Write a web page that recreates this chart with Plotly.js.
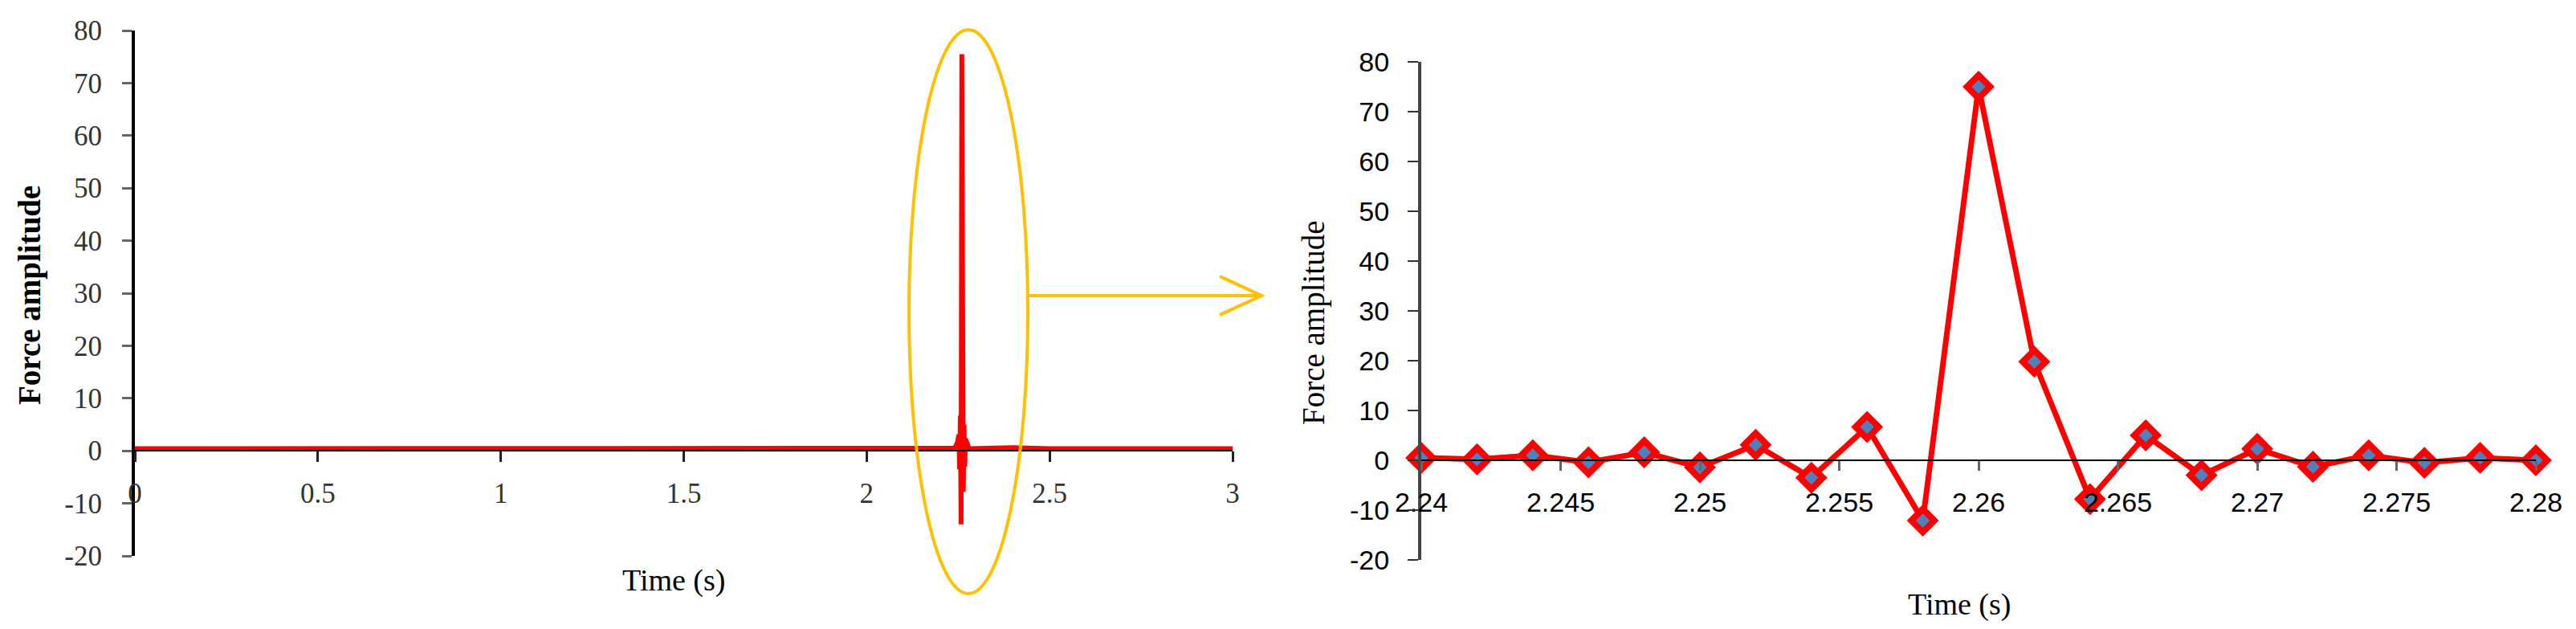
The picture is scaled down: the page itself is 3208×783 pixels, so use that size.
<!DOCTYPE html>
<html>
<head>
<meta charset="utf-8">
<script src="https://cdn.plot.ly/plotly-3.0.1.min.js"></script>
<style>html,body{margin:0;padding:0;background:#fff;} #chart{width:3208px;height:783px;}</style>
</head>
<body>
<div id="chart"></div>
<script>
// ---- Data ----
// Full record (left panel): flat baseline with an impact spike near 2.26 s
const fullTime  = [0, 0.5, 1.0, 1.5, 2.0, 2.24, 2.244, 2.248, 2.252, 2.254, 2.256, 2.258, 2.26, 2.262, 2.264, 2.266, 2.268, 2.27, 2.28, 2.4, 2.5, 3.0];
const fullForce = [0.4, 0.4, 0.4, 0.4, 0.4, 0.5, 1.0, 1.6, 3.1, -3.5, 6.7, -14, 75.5, 19.8, -7.8, 5.0, -3.0, 2.3, 0.4, 0.6, 0.4, 0.4];

// Zoomed window (right panel)
const zoomTime  = [2.24, 2.242, 2.244, 2.246, 2.248, 2.25, 2.252, 2.254, 2.256, 2.258, 2.26, 2.262, 2.264, 2.266, 2.268, 2.27, 2.272, 2.274, 2.276, 2.278, 2.28];
const zoomForce = [0.5, 0.2, 1.0, -0.4, 1.6, -1.4, 3.1, -3.5, 6.7, -12.1, 75, 19.8, -7.8, 5.0, -3.0, 2.3, -1.3, 1.0, -0.5, 0.5, 0];

// Tick labels
const leftXTickVals  = [0, 0.5, 1, 1.5, 2, 2.5, 3];
const leftXTickText  = ['0', '0.5', '1', '1.5', '2', '2.5', '3'];
const rightXTickVals = [2.24, 2.245, 2.25, 2.255, 2.26, 2.265, 2.27, 2.275, 2.28];
const rightXTickText = ['2.24', '2.245', '2.25', '2.255', '2.26', '2.265', '2.27', '2.275', '2.28'];
const yTickVals = [-20, -10, 0, 10, 20, 30, 40, 50, 60, 70, 80];
const yTickText = ['-20', '-10', '0', '10', '20', '30', '40', '50', '60', '70', '80'];

// ---- Layout helpers (pixel -> paper) ----
const W = 3208, H = 783;
const px = v => v / W;
const py = v => 1 - v / H;

const serif = 'Liberation Serif, Times New Roman, serif';
const sans = 'Liberation Sans, Arial, sans-serif';

const traces = [
  {
    x: fullTime, y: fullForce, xaxis: 'x', yaxis: 'y',
    type: 'scatter', mode: 'lines',
    line: {color: '#ff0000', width: 6},
    hoverinfo: 'skip', showlegend: false
  },
  {
    x: zoomTime, y: zoomForce, xaxis: 'x2', yaxis: 'y2',
    type: 'scatter', mode: 'lines+markers',
    line: {color: '#ff0000', width: 7},
    marker: {symbol: 'diamond', size: 22, color: '#4f81bd', line: {color: '#ff0000', width: 8}},
    cliponaxis: false,
    hoverinfo: 'skip', showlegend: false
  }
];

const layout = {
  width: W, height: H,
  margin: {l: 0, r: 0, t: 0, b: 0},
  paper_bgcolor: '#ffffff', plot_bgcolor: 'rgba(0,0,0,0)',
  showlegend: false,
  xaxis: {
    domain: [px(168), px(1535)], range: [0, 3],
    anchor: 'free', position: py(561),
    tickvals: leftXTickVals, ticktext: leftXTickText,
    ticks: 'outside', ticklen: 13, tickwidth: 3, tickcolor: '#222',
    showline: true, linecolor: '#000', linewidth: 2,
    showgrid: false, zeroline: false,
    tickfont: {family: serif, size: 35, color: '#333'},
    ticklabelstandoff: 9
  },
  yaxis: {
    domain: [py(692), py(38)], range: [-20, 80],
    anchor: 'x',
    tickvals: yTickVals, ticktext: yTickText,
    ticks: 'outside', ticklen: 12, tickwidth: 3, tickcolor: '#666',
    showline: true, linecolor: '#000', linewidth: 4,
    showgrid: false, zeroline: false,
    tickfont: {family: serif, size: 35, color: '#333'},
    ticklabelstandoff: 18
  },
  xaxis2: {
    domain: [px(1770), px(3158)], range: [2.24, 2.28],
    anchor: 'free', position: py(573),
    tickvals: rightXTickVals, ticktext: rightXTickText,
    ticks: 'outside', ticklen: 12, tickwidth: 3, tickcolor: '#666',
    showline: true, linecolor: '#000', linewidth: 2,
    showgrid: false, zeroline: false,
    tickfont: {family: sans, size: 34, color: '#000'},
    ticklabelstandoff: 10
  },
  yaxis2: {
    domain: [py(697), py(77)], range: [-20, 80],
    anchor: 'x2',
    tickvals: yTickVals, ticktext: yTickText,
    ticks: 'outside', ticklen: 13, tickwidth: 2, tickcolor: '#333',
    showline: true, linecolor: '#444', linewidth: 4,
    showgrid: false, zeroline: false,
    tickfont: {family: sans, size: 34, color: '#000'},
    ticklabelstandoff: 16
  },
  annotations: [
    {text: '<b>Force amplitude</b>', xref: 'paper', yref: 'paper', x: px(37), y: py(368),
     xanchor: 'center', yanchor: 'middle', textangle: -90, showarrow: false,
     font: {family: serif, size: 39, color: '#000'}},
    {text: 'Time (s)', xref: 'paper', yref: 'paper', x: px(839), y: py(722),
     xanchor: 'center', yanchor: 'middle', showarrow: false,
     font: {family: serif, size: 38, color: '#000'}},
    {text: 'Force amplitude', xref: 'paper', yref: 'paper', x: px(1636), y: py(402),
     xanchor: 'center', yanchor: 'middle', textangle: -90, showarrow: false,
     font: {family: serif, size: 39, color: '#000'}},
    {text: 'Time (s)', xref: 'paper', yref: 'paper', x: px(2440), y: py(752),
     xanchor: 'center', yanchor: 'middle', showarrow: false,
     font: {family: serif, size: 38, color: '#000'}}
  ],
  shapes: [
    {type: 'circle', xref: 'paper', yref: 'paper',
     x0: px(1132), x1: px(1280), y0: py(739), y1: py(37),
     line: {color: '#ffc000', width: 4}, fillcolor: 'rgba(0,0,0,0)', layer: 'above'},
    {type: 'path', xref: 'paper', yref: 'paper',
     path: 'M ' + px(1280) + ' ' + py(368) + ' L ' + px(1571) + ' ' + py(368) +
           ' M ' + px(1519) + ' ' + py(344) + ' L ' + px(1571) + ' ' + py(368) + ' L ' + px(1519) + ' ' + py(392),
     line: {color: '#ffc000', width: 4}, layer: 'above'}
  ]
};

Plotly.newPlot('chart', traces, layout, {staticPlot: true, displayModeBar: false});
</script>
</body>
</html>
